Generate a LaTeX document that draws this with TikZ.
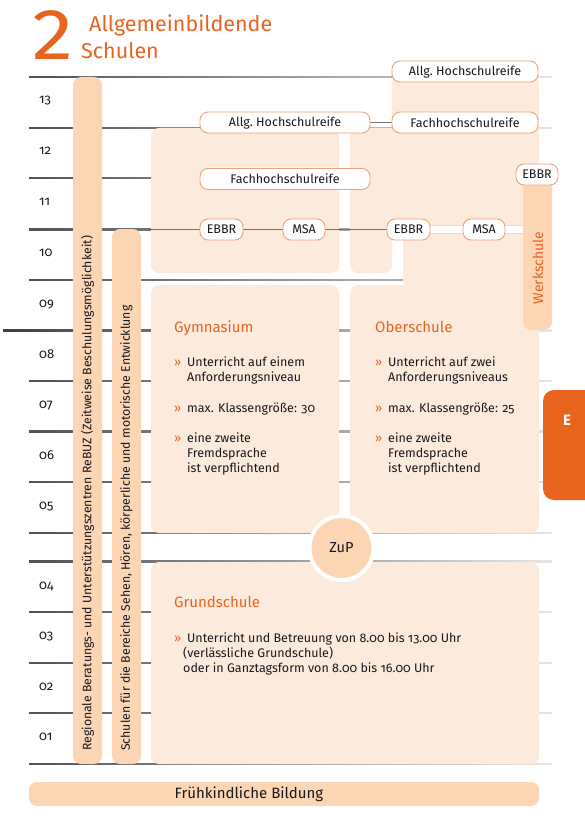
\documentclass[tikz,border=0pt]{standalone}
\usepackage{fontspec}
\setmainfont[Numbers=OldStyle]{Fira Sans}
\newfontfamily\titlefont[Numbers=Lining]{Fira Sans}
\newfontfamily\digitfont[Numbers=Lining,FakeStretch=1.15]{Fira Sans}
\usetikzlibrary{calc}
\pgfdeclarelayer{bg}
\pgfdeclarelayer{mid}
\pgfsetlayers{bg,mid,main}
\definecolor{orng}{HTML}{E8641E}
\definecolor{lightpeach}{HTML}{FCEBDC}
\definecolor{peach}{HTML}{FCD5B5}
\definecolor{pillborder}{HTML}{EFA07F}
\definecolor{txt}{HTML}{18181F}
\begin{document}
\begin{tikzpicture}[x=1pt,y=-1pt,
  pill/.style={draw=pillborder, line width=0.9pt, fill=white, rounded corners=8pt, minimum height=21pt, inner sep=0pt, font=\fontsize{12.5}{14}\selectfont, text=txt},
  gradetxt/.style={anchor=base west, inner sep=0pt, font=\fontsize{13}{15}\selectfont, text=txt},
  bodytxt/.style={anchor=base west, inner sep=0pt, font=\fontsize{12.5}{15}\selectfont, text=txt},
  bultxt/.style={anchor=base west, inner sep=0pt, font=\fontsize{12.5}{15}\selectfont, text=orng},
  headtxt/.style={anchor=base west, inner sep=0pt, font=\fontsize{15}{18}\selectfont, text=orng},
  vtext/.style={rotate=90, anchor=west, inner sep=0pt, font=\fontsize{12.3}{14}\selectfont, text=txt},
  conn/.style={draw=black!55, line width=1.1pt},
  gl/.style={left color=black!68, right color=black!10},
  boxfill/.style={fill=lightpeach, rounded corners=8pt},
  barfill/.style={fill=peach, rounded corners=8pt},
]
\useasboundingbox (0,0) rectangle (585,829);

% ---------- title ----------
\node[anchor=base west, inner sep=0pt, text=orng, font=\digitfont\fontsize{72}{72}\selectfont] (two) at (32,60) {2};
\node[anchor=base west, inner sep=0pt, text=orng, font=\titlefont\fontsize{21.5}{24}\selectfont] (title1) at (89,32) {Allgemeinbildende};
\node[anchor=base west, inner sep=0pt, text=orng, font=\titlefont\fontsize{21.5}{24}\selectfont] (title2) at (81,59) {Schulen};

% ---------- grade numbers ----------
\node[gradetxt] (g13) at (39,104) {13};
\node[gradetxt] (g12) at (39,155) {12};
\node[gradetxt] (g11) at (39,205) {11};
\node[gradetxt] (g10) at (39,256) {10};
\node[gradetxt] (g09) at (39,307) {09};
\node[gradetxt] (g08) at (39,358) {08};
\node[gradetxt] (g07) at (39,408) {07};
\node[gradetxt] (g06) at (39,459) {06};
\node[gradetxt] (g05) at (39,509) {05};
\node[gradetxt] (g04) at (39,589) {04};
\node[gradetxt] (g03) at (39,639) {03};
\node[gradetxt] (g02) at (39,690) {02};
\node[gradetxt] (g01) at (39,740) {01};

% ---------- pills ----------
\node[pill, minimum width=146pt] (allgR) at (465,71.5) {Allg.\ Hochschulreife};
\node[pill, minimum width=146pt] (fachR) at (465,122.5) {Fachhochschulreife};
\node[pill, minimum width=170pt] (allgL) at (285,122.5) {Allg.\ Hochschulreife};
\node[pill, minimum width=170pt] (fachL) at (285,179) {Fachhochschulreife};
\node[pill, minimum width=42pt] (ebbrW) at (537,174.5) {EBBR};
\node[pill, minimum width=43pt] (ebbrL) at (221.5,229.5) {EBBR};
\node[pill, minimum width=42pt] (msaL) at (304,229.5) {MSA};
\node[pill, minimum width=43pt] (ebbrR) at (408.5,229.5) {EBBR};
\node[pill, minimum width=42pt] (msaR) at (484,229.5) {MSA};

% ---------- vertical bar texts ----------
\node[vtext] (rebuz) at (87.5,751) {Regionale Beratungs- und Unterstützungszentren ReBUZ (Zeitweise Beschulungsmöglichkeit)};
\node[vtext] (sinne) at (126.5,751) {Schulen für die Bereiche Sehen, Hören, körperliche und motorische Entwicklung};
\node[rotate=90, inner sep=0pt, text=orng, font=\fontsize{14}{16}\selectfont] (werk) at (538,268) {Werkschule};

% ---------- Gymnasium ----------
\node[headtxt] (gymh) at (174,332) {Gymnasium};
\node[bultxt] (gb1) at (174,366) {»};
\node[bodytxt] (gt1) at (187,366) {Unterricht auf einem};
\node[bodytxt] (gt1b) at (187,381) {Anforderungsniveau};
\node[bultxt] (gb2) at (174,412) {»};
\node[bodytxt] (gt2) at (187,412) {max. Klassengröße: 30};
\node[bultxt] (gb3) at (174,442) {»};
\node[bodytxt] (gt3) at (187,442) {eine zweite};
\node[bodytxt] (gt3b) at (187,457) {Fremdsprache};
\node[bodytxt] (gt3c) at (187,472) {ist verpflichtend};

% ---------- Oberschule ----------
\node[headtxt] (obh) at (375,332) {Oberschule};
\node[bultxt] (ob1) at (375,366) {»};
\node[bodytxt] (ot1) at (388,366) {Unterricht auf zwei};
\node[bodytxt] (ot1b) at (388,381) {Anforderungsniveaus};
\node[bultxt] (ob2) at (375,412) {»};
\node[bodytxt] (ot2) at (388,412) {max. Klassengröße: 25};
\node[bultxt] (ob3) at (375,442) {»};
\node[bodytxt] (ot3) at (388,442) {eine zweite};
\node[bodytxt] (ot3b) at (388,457) {Fremdsprache};
\node[bodytxt] (ot3c) at (388,472) {ist verpflichtend};

% ---------- Grundschule ----------
\node[headtxt] (gsh) at (174,607) {Grundschule};
\node[bultxt] (gsb) at (174,642) {»};
\node[bodytxt] (gs1) at (187,642) {Unterricht und Betreuung von 8.00 bis 13.00 Uhr};
\node[bodytxt] (gs2) at (183,657) {(verlässliche Grundschule)};
\node[bodytxt] (gs3) at (183,672) {oder in Ganztagsform von 8.00 bis 16.00 Uhr};

% ---------- ZuP ----------
\node[circle, fill=peach, draw=white, line width=4pt, minimum size=64pt, inner sep=0pt, font=\fontsize{14.5}{16}\selectfont, text=txt] (zup) at (341.5,548) {ZuP};

% ---------- E tab ----------
\node[font=\bfseries\fontsize{15}{17}\selectfont, text=white, inner sep=0pt] (etab) at (567,420) {E};

% ---------- Fruehkindliche Bildung ----------
\node[font=\fontsize{15}{17}\selectfont, text=txt, inner sep=0pt] (fb) at (249,794) {Frühkindliche Bildung};

\coordinate (lg) at (141,229.5);
\coordinate (wk) at (523,229.5);

% ---------- background: grid and boxes ----------
\begin{pgfonlayer}{bg}
\foreach \yy in {77,128,178,229.5,381,431.5,482,533,561.5,612,663,713,764}{
  \shade[gl] (29,\yy-0.65) rectangle (552,\yy+0.65);
}
\shade[left color=black!75, right color=black!10] (3,329.85) rectangle (552,331.15);
\shade[left color=black!68, right color=black!30] (29,279.35) rectangle (403,280.65);

% Oberschule upper region
\fill[boxfill] (392,75) rectangle (539,300);
\fill[boxfill] (350,128) rectangle (392,273);
\fill[lightpeach] (380,128) rectangle (392,260);
% Gymnasium upper region
\fill[boxfill] (151,128) rectangle (339,273);
% main boxes
\fill[boxfill] (151,285) rectangle (339,533);
\fill[boxfill] (350,285) rectangle (539,533);
\fill[boxfill] (151,562) rectangle (539,764);
% bars
\fill[barfill] (73,77) rectangle (102,764);
\fill[barfill] (112,229) rectangle (141,764);
\fill[barfill] (523,180) rectangle (552,330);
% white strip below right EBBR
\fill[white] (392,236) rectangle (403,285);
\fill[black!32] (392,279.35) rectangle (403,280.65);
% E tab
\fill[orng, rounded corners=11pt] (543,390) rectangle (600,500);
% Fruehkindliche Bildung bar
\fill[barfill] (29,782) rectangle (539,806);
\end{pgfonlayer}

% ---------- connectors ----------
\begin{pgfonlayer}{mid}
\draw[conn] (lg) -- (ebbrL) -- (msaL) -- (ebbrR);
\draw[conn] (allgL) -- (fachR);
\draw[black!13, line width=9pt] (ebbrR) -- (msaR) -- (wk);
\draw[white, line width=7pt] (ebbrR) -- (msaR) -- (wk);
\end{pgfonlayer}
\end{tikzpicture}
\end{document}
